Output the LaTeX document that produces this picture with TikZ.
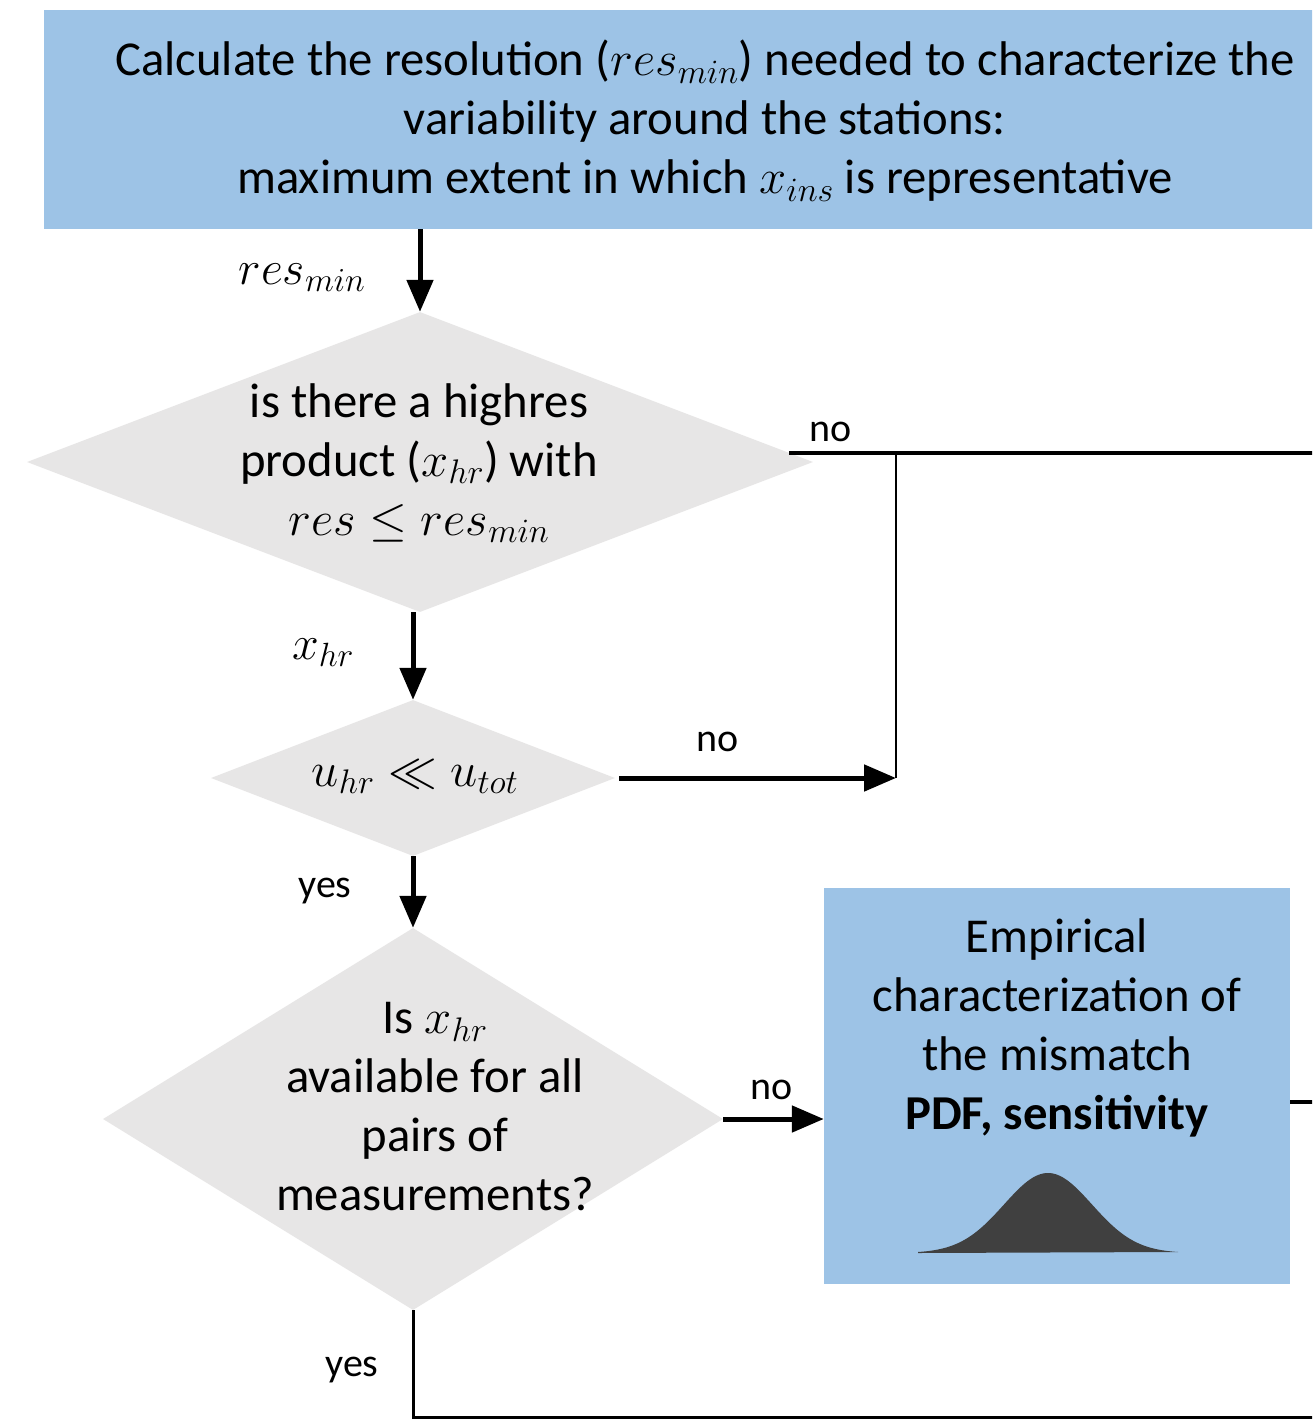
\RequirePackage{fix-cm}
\documentclass[tikz,border=0pt]{standalone}
\usepackage{fontspec}
\setmainfont{Carlito}
\usetikzlibrary{arrows.meta,shapes.geometric,calc}
\definecolor{boxblue}{HTML}{9DC3E6}
\definecolor{diagray}{HTML}{E7E6E6}
\definecolor{bellgray}{HTML}{404040}
\tikzset{
  blk/.style={rectangle,fill=boxblue,draw=none,inner sep=0pt},
  dia/.style={diamond,fill=diagray,draw=none,inner sep=0pt},
  txt/.style={font=\fontsize{48.7}{59}\selectfont,align=center,inner sep=0pt},
  lbl/.style={font=\fontsize{40}{48}\selectfont,inner sep=0pt},
  mlbl/.style={font=\fontsize{48}{56}\selectfont,inner sep=0pt},
  arr/.style={line width=5pt,-{Triangle[length=32pt,width=26pt]}},
  thick line/.style={line width=4.5pt},
  thin line/.style={line width=2.5pt},
}
\begin{document}
\begin{tikzpicture}[x=1pt,y=-1pt]
\clip (0,0) rectangle (1312,1421);
\fill[white] (0,0) rectangle (1312,1421);

% top box
\node[blk,minimum width=1296pt,minimum height=219pt] (top) at (692,119.5) {};
\node[txt] (toptxt) at (705,121) {Calculate the resolution ($res_{min}$) needed to characterize the\\variability around the stations:\\maximum extent in which $x_{ins}$ is representative};

% diamonds
\node[dia,minimum width=786pt,minimum height=300pt] (d1) at (420,462) {};
\node[txt] (d1txt) at (419,463) {is there a highres\\product ($x_{hr}$) with\\$res \le res_{min}$};

\node[dia,minimum width=404pt,minimum height=156pt] (d2) at (413,778) {};
\node[txt] (d2txt) at (415,777) {$u_{hr} \ll u_{tot}$};

\node[dia,minimum width=620pt,minimum height=382pt] (d3) at (413,1119) {};
\node[txt] (d3txt) at (435,1107) {Is $x_{hr}$\\available for all\\pairs of\\measurements?};

% right box
\node[blk,minimum width=466pt,minimum height=396pt] (box2) at (1057,1086) {};
\node[txt] (box2txt) at (1057,1028) {Empirical\\characterization of\\the mismatch\\\textbf{PDF, sensitivity}};
\fill[bellgray] (918,1253) -- plot[domain=918:1178,samples=120,smooth] ({\x},{1253-80*exp(-0.5*((\x-1048)/44)^2)}) -- cycle;

% coordinates
\coordinate (j1) at (896,453);
\coordinate (j2) at (896,778);
\coordinate (e1) at (1330,453);
\coordinate (e2) at (1330,1102);
\coordinate (e3) at (1330,1417);

% connectors
\draw[arr] (top.south -| d1.north) -- (d1.north);
\draw[arr] (d1.south -| d2.north) -- (d2.north);
\draw[arr] (d2.south) -- (d3.north);
\draw[thick line] ([shift={(-24,-9)}]d1.east) -- (e1);
\draw[thin line] (j1) -- (j2);
\draw[arr] ([xshift=4pt]d2.east) -- (j2);
\draw[arr] (d3.east) -- (d3.east -| box2.west);
\draw[thick line] (e2 -| box2.east) -- (e2);
\draw[line width=3pt] (d3.south) -- (d3.south |- e3) -- (e3);

% labels
\node[mlbl] (l1) at (302,278) {$res_{min}$};
\node[mlbl] (l2) at (323,653) {$x_{hr}$};
\node[lbl] (l3) at (831,432) {no};
\node[lbl] (l4) at (718,742) {no};
\node[lbl] (l5) at (325,891) {yes};
\node[lbl] (l6) at (772,1090) {no};
\node[lbl] (l7) at (352,1370) {yes};
\end{tikzpicture}
\end{document}
